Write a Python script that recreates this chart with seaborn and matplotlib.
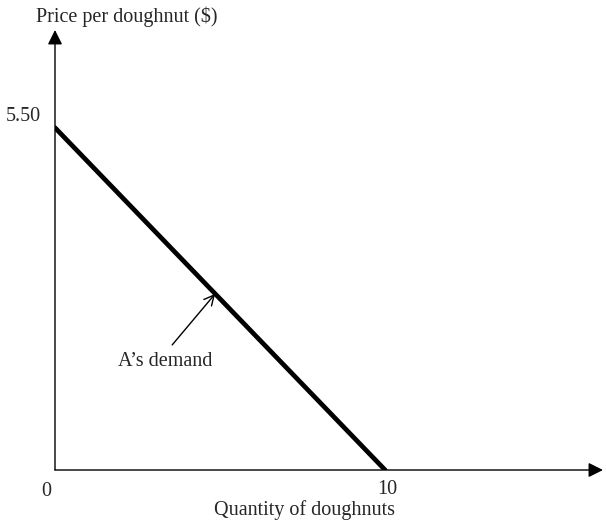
import pandas as pd
import matplotlib
matplotlib.use('Agg')
import matplotlib.pyplot as plt
import seaborn as sns

# demand schedule for A (two end points of the straight line)
quantity = [0, 10]
price = [5.50, 0]
x_ticks = [0, 10]
x_tick_labels = ['0', '10']
y_ticks = [5.50]
y_tick_labels = ['5.50']

x_max = 16.6
y_max = 7.07

sns.set_style('white')
plt.rcParams['font.family'] = ['Liberation Serif', 'DejaVu Serif']
fs = 14.5

fig = plt.figure(figsize=(6.06, 5.21), dpi=100)
ax = fig.add_axes([55 / 606, 51 / 521, (603 - 55) / 606, (470 - 30) / 521])
ax.set_xlim(0, x_max)
ax.set_ylim(0, y_max)
ax.axis('off')

df = pd.DataFrame({'quantity': quantity, 'price': price})
sns.lineplot(data=df, x='quantity', y='price', color='black', linewidth=3.4, ax=ax)

# axes with arrow heads
arrow = dict(arrowstyle='-|>', color='black', lw=1.0, mutation_scale=22, shrinkA=0, shrinkB=0)
ax.annotate('', xy=(x_max, 0), xytext=(0, 0), arrowprops=arrow, annotation_clip=False)
ax.annotate('', xy=(0, y_max), xytext=(0, 0), arrowprops=arrow, annotation_clip=False)

# tick labels
for v, lab in zip(y_ticks, y_tick_labels):
    ax.text(-0.42, v + 0.18, lab, ha='right', va='center', fontsize=fs)
ax.text(x_ticks[0] - 0.27, -0.34, x_tick_labels[0], ha='center', va='center', fontsize=fs)
ax.text(x_ticks[1] + 0.06, -0.32, x_tick_labels[1], ha='center', va='center', fontsize=fs)

ax.text(7.55, -0.64, 'Quantity of doughnuts', ha='center', va='center', fontsize=fs)
ax.text(2.18, y_max + 0.21, 'Price per doughnut ($)', ha='center', va='center', fontsize=fs)

# label for the demand curve
ax.text(3.33, 1.74, 'A\u2019s demand', ha='center', va='center', fontsize=fs)
ax.annotate('', xy=(4.85, 2.83), xytext=(3.55, 2.01),
            arrowprops=dict(arrowstyle='->', color='black', lw=1.0, mutation_scale=18,
                            shrinkA=0, shrinkB=0))

fig.savefig('out.png', dpi=100)
